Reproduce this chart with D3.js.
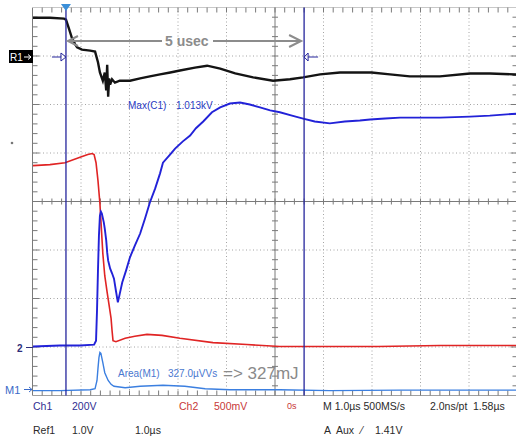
<!DOCTYPE html>
<html>
<head>
<meta charset="utf-8">
<script src="https://cdn.jsdelivr.net/npm/d3@7"></script>
<style>
  html, body { margin: 0; padding: 0; background: #fff; }
  svg { display: block; font-family: "Liberation Sans", Arial, sans-serif; }
</style>
</head>
<body>
<svg id="scope" width="516" height="437"></svg>
<script>
// Time in µs from the left edge of the screen, amplitude in screen divisions
const ref1Time = [0.01, 0.36, 0.65, 0.69, 0.75, 0.81, 0.88, 0.92, 1.02, 1.19, 1.29, 1.35, 1.39, 1.45, 1.49, 1.52, 1.54, 1.56, 1.58, 1.60, 1.64, 1.70, 1.80, 2.01, 2.22, 2.42, 2.63, 2.84, 3.04, 3.35, 3.60, 3.87, 4.18, 4.55, 4.96, 5.31, 5.58, 5.93, 6.34, 6.99, 7.37, 7.78, 8.40, 9.02, 9.43, 9.97];
const ref1Div = [3.79, 3.79, 3.77, 3.75, 3.57, 3.38, 3.24, 3.18, 3.13, 3.11, 3.09, 2.87, 2.66, 2.49, 2.66, 2.29, 2.82, 2.16, 2.54, 2.41, 2.52, 2.45, 2.49, 2.49, 2.54, 2.58, 2.62, 2.66, 2.70, 2.76, 2.80, 2.74, 2.64, 2.56, 2.49, 2.52, 2.56, 2.62, 2.66, 2.66, 2.62, 2.58, 2.58, 2.64, 2.64, 2.62];

const ch1Time = [0.01, 0.57, 0.98, 1.27, 1.31, 1.33, 1.35, 1.37, 1.39, 1.41, 1.43, 1.47, 1.49, 1.52, 1.54, 1.56, 1.58, 1.60, 1.64, 1.68, 1.72, 1.76, 1.80, 1.85, 1.93, 2.01, 2.11, 2.22, 2.32, 2.42, 2.53, 2.63, 2.69, 2.84, 2.94, 3.10, 3.25, 3.37, 3.52, 3.70, 3.87, 4.07, 4.28, 4.48, 4.69, 4.90, 5.10, 5.35, 5.58, 5.82, 6.13, 6.44, 6.75, 6.96, 7.27, 7.58, 7.99, 8.40, 9.02, 9.43, 9.97];
const ch1Div = [-2.99, -2.97, -2.97, -2.95, -2.87, -2.25, -1.42, -0.70, -0.29, -0.21, -0.25, -0.43, -0.56, -0.80, -1.05, -1.22, -1.30, -1.38, -1.48, -1.59, -1.84, -2.08, -1.90, -1.67, -1.42, -1.15, -0.91, -0.66, -0.35, -0.02, 0.27, 0.58, 0.80, 0.97, 1.09, 1.24, 1.36, 1.51, 1.65, 1.84, 1.94, 2.02, 2.04, 2.00, 1.94, 1.88, 1.84, 1.77, 1.71, 1.65, 1.61, 1.65, 1.67, 1.69, 1.71, 1.73, 1.73, 1.73, 1.75, 1.77, 1.81];

const ch2Time = [0.01, 0.36, 0.67, 0.98, 1.14, 1.23, 1.27, 1.31, 1.35, 1.39, 1.45, 1.49, 1.54, 1.58, 1.62, 1.64, 1.66, 1.72, 1.91, 2.11, 2.36, 2.67, 3.04, 3.72, 4.42, 5.10, 6.13, 7.13, 8.40, 9.97];
const ch2Div = [0.74, 0.76, 0.80, 0.91, 0.97, 0.99, 0.97, 0.80, 0.43, -0.04, -1.07, -1.53, -1.88, -2.14, -2.41, -2.66, -2.87, -2.89, -2.82, -2.78, -2.74, -2.76, -2.82, -2.91, -2.95, -2.99, -2.99, -2.99, -2.97, -2.97];

const m1Time = [0.01, 0.57, 1.19, 1.29, 1.33, 1.35, 1.37, 1.39, 1.41, 1.45, 1.49, 1.56, 1.62, 1.68, 1.91, 2.22, 2.69, 3.14, 3.56, 4.07, 5.10, 6.13, 7.58, 9.97];
const m1Div = [-3.90, -3.90, -3.88, -3.86, -3.69, -3.44, -3.22, -3.11, -3.13, -3.32, -3.53, -3.69, -3.77, -3.81, -3.84, -3.81, -3.79, -3.81, -3.86, -3.88, -3.88, -3.90, -3.89, -3.89];

// Cursor and trigger positions (µs from left edge)
const cursorTimes = [0.69, 5.60];
const triggerTime = 0.69;

// Readout texts
const readoutRow1 = [
  { text: 'Ch1', x: 33, color: '#2e2e92' },
  { text: '200V', x: 72, color: '#2e2e92' },
  { text: 'Ch2', x: 179, color: '#c83838' },
  { text: '500mV', x: 214, color: '#c83838' },
  { text: 'M 1.0\u00b5s 500MS/s', x: 323, color: '#2a2a2a' },
  { text: '2.0ns/pt', x: 430, color: '#2a2a2a' },
  { text: '1.58\u00b5s', x: 473, color: '#2a2a2a' },
];
const readoutRow2 = [
  { text: 'Ref1', x: 33 },
  { text: '1.0V', x: 72 },
  { text: '1.0\u00b5s', x: 135 },
  { text: 'A', x: 324 },
  { text: 'Aux', x: 336 },
  { text: '\u2044', x: 361 },
  { text: '1.41V', x: 375 },
];

// Screen geometry
const gLeft = 32.5, gRight = 517.5, gTop = 7.5, gBottom = 395.5;

const x = d3.scaleLinear().domain([0, 10]).range([gLeft, gRight]);
const y = d3.scaleLinear().domain([-4, 4]).range([gBottom, gTop]);

const svg = d3.select('#scope');
const zip = (ts, vs) => ts.map((t, i) => [t, vs[i]]);
const line = d3.line().x((d) => x(d[0])).y((d) => y(d[1]));

// Dotted graticule
const grid = svg.append('g').attr('stroke', '#a4a4a4').attr('stroke-width', 1).attr('stroke-dasharray', '1,2.5');
d3.range(1, 10).filter((k) => k !== 5).forEach((k) => {
  grid.append('line').attr('x1', x(k)).attr('x2', x(k)).attr('y1', gTop).attr('y2', gBottom);
});
d3.range(-3, 4).filter((k) => k !== 0).forEach((k) => {
  grid.append('line').attr('x1', gLeft).attr('x2', gRight).attr('y1', y(k)).attr('y2', y(k));
});

// Frame, centre axes and minor ticks
const frame = svg.append('g').attr('stroke', '#7a7a7a').attr('stroke-width', 1);
frame.append('line').attr('x1', gLeft).attr('x2', gLeft).attr('y1', gTop).attr('y2', gBottom);
frame.append('line').attr('x1', gLeft).attr('x2', gRight).attr('y1', gTop).attr('y2', gTop).attr('stroke', '#c8c8c8');
frame.append('line').attr('x1', gLeft).attr('x2', gRight).attr('y1', gBottom).attr('y2', gBottom).attr('stroke', '#a0a0a0');
frame.append('line').attr('x1', gRight).attr('x2', gRight).attr('y1', gTop).attr('y2', gBottom);
frame.append('line').attr('x1', gLeft).attr('x2', gRight).attr('y1', y(0)).attr('y2', y(0));
frame.append('line').attr('x1', x(5)).attr('x2', x(5)).attr('y1', gTop).attr('y2', gBottom);

d3.range(0.2, 10, 0.2).forEach((t) => {
  frame.append('line').attr('x1', x(t)).attr('x2', x(t)).attr('y1', gTop).attr('y2', gTop + 5);
  frame.append('line').attr('x1', x(t)).attr('x2', x(t)).attr('y1', gBottom - 5).attr('y2', gBottom);
  frame.append('line').attr('x1', x(t)).attr('x2', x(t)).attr('y1', y(0) - 3).attr('y2', y(0) + 3);
});
d3.range(-3.8, 4, 0.2).forEach((v) => {
  const len = Math.abs(v - Math.round(v)) < 0.01 ? 7 : 5;
  frame.append('line').attr('x1', gLeft).attr('x2', gLeft + len).attr('y1', y(v)).attr('y2', y(v));
  frame.append('line').attr('x1', gRight - len).attr('x2', gRight).attr('y1', y(v)).attr('y2', y(v));
  frame.append('line').attr('x1', x(5) - 3).attr('x2', x(5) + 3).attr('y1', y(v)).attr('y2', y(v));
});

// Traces
svg.append('path').datum(zip(m1Time, m1Div)).attr('d', line)
  .attr('fill', 'none').attr('stroke', '#3b7fe0').attr('stroke-width', 1.4);
svg.append('path').datum(zip(ch2Time, ch2Div)).attr('d', line)
  .attr('fill', 'none').attr('stroke', '#e02424').attr('stroke-width', 1.6);
svg.append('path').datum(zip(ch1Time, ch1Div)).attr('d', line)
  .attr('fill', 'none').attr('stroke', '#2222d8').attr('stroke-width', 1.9);
svg.append('path').datum(zip(ref1Time, ref1Div)).attr('d', line)
  .attr('fill', 'none').attr('stroke', '#141414').attr('stroke-width', 2.4);

// Cursors
const cursorY = 57;
cursorTimes.forEach((t) => {
  svg.append('line').attr('x1', x(t)).attr('x2', x(t)).attr('y1', gTop).attr('y2', gBottom)
    .attr('stroke', '#25259c').attr('stroke-width', 1.3);
});
const c0 = x(cursorTimes[0]), c1 = x(cursorTimes[1]);
svg.append('line').attr('x1', c0 - 14).attr('x2', c0 - 5).attr('y1', cursorY).attr('y2', cursorY).attr('stroke', '#25259c');
svg.append('path').attr('d', `M${c0 - 5},${cursorY - 4}L${c0},${cursorY}L${c0 - 5},${cursorY + 4}Z`)
  .attr('fill', 'none').attr('stroke', '#25259c');
svg.append('line').attr('x1', c1 + 4).attr('x2', c1 + 14).attr('y1', cursorY).attr('y2', cursorY).attr('stroke', '#25259c');
svg.append('path').attr('d', `M${c1 + 4},${cursorY - 4}L${c1},${cursorY}L${c1 + 4},${cursorY + 4}Z`)
  .attr('fill', 'none').attr('stroke', '#25259c');

// Trigger marker
const tx = x(triggerTime);
svg.append('path').attr('d', `M${tx - 5},4L${tx + 5},4L${tx},11Z`).attr('fill', '#3b8fd8');

// "5 usec" annotation arrow
const arrowY = 41;
const ann = svg.append('g').attr('stroke', '#8c8c8c').attr('stroke-width', 2).attr('fill', 'none');
ann.append('line').attr('x1', c0 + 2).attr('x2', 162).attr('y1', arrowY).attr('y2', arrowY);
ann.append('line').attr('x1', 213).attr('x2', c1 - 3).attr('y1', arrowY).attr('y2', arrowY);
ann.append('path').attr('d', `M${c1 - 15},${arrowY - 6}L${c1 - 3},${arrowY}L${c1 - 15},${arrowY + 6}`);
ann.append('path').attr('d', `M${c0 + 12},${arrowY - 5}L${c0 + 2},${arrowY}L${c0 + 12},${arrowY + 5}`);
svg.append('text').attr('x', 165).attr('y', 45.5).attr('fill', '#8c8c8c')
  .style('font-size', '14px').style('font-weight', 'bold').text('5 usec');

// Measurement labels
svg.append('text').attr('x', 128).attr('y', 109).attr('fill', '#2a3ac4').style('font-size', '10px').text('Max(C1)');
svg.append('text').attr('x', 176).attr('y', 109).attr('fill', '#2a3ac4').style('font-size', '10px').text('1.013kV');
svg.append('text').attr('x', 118).attr('y', 377).attr('fill', '#4a78d0').style('font-size', '10px').text('Area(M1)');
svg.append('text').attr('x', 168).attr('y', 377).attr('fill', '#4a78d0').style('font-size', '10px').text('327.0\u00b5VVs');
svg.append('text').attr('x', 223).attr('y', 379).attr('fill', '#8a8a8a').style('font-size', '17px').text('=> 327mJ');

// Left side markers
svg.append('rect').attr('x', 9).attr('y', 50).attr('width', 24).attr('height', 13).attr('fill', '#000');
svg.append('text').attr('x', 10).attr('y', 60.5).attr('fill', '#fff').style('font-size', '10px').text('R1');
svg.append('path').attr('d', 'M24,57H31M28,54.5L31,57L28,59.5').attr('stroke', '#fff').attr('fill', 'none');
svg.append('circle').attr('cx', 12).attr('cy', 143).attr('r', 1.3).attr('fill', '#777');
svg.append('text').attr('x', 17).attr('y', 351.5).attr('fill', '#2e2e7a').style('font-size', '10px').style('font-weight', 'bold').text('2');
svg.append('line').attr('x1', 26).attr('x2', 33).attr('y1', 347.5).attr('y2', 347.5).attr('stroke', '#2e2e7a');
svg.append('text').attr('x', 5).attr('y', 394).attr('fill', '#3a6ac8').style('font-size', '11px').text('M1');
svg.append('path').attr('d', 'M24,389.5H32M29,387L32,389.5L29,392').attr('stroke', '#3a6ac8').attr('fill', 'none');

// Readouts
svg.selectAll('text.row1').data(readoutRow1).join('text').attr('class', 'row1')
  .attr('x', (d) => d.x).attr('y', 410).attr('fill', (d) => d.color)
  .style('font-size', '10.5px').text((d) => d.text);
svg.append('text').attr('x', 287).attr('y', 409).attr('fill', '#c83838').style('font-size', '9px').text('0s');
svg.selectAll('text.row2').data(readoutRow2).join('text').attr('class', 'row2')
  .attr('x', (d) => d.x).attr('y', 433.5).attr('fill', '#2a2a2a')
  .style('font-size', '10.5px').text((d) => d.text);
</script>
</body>
</html>
